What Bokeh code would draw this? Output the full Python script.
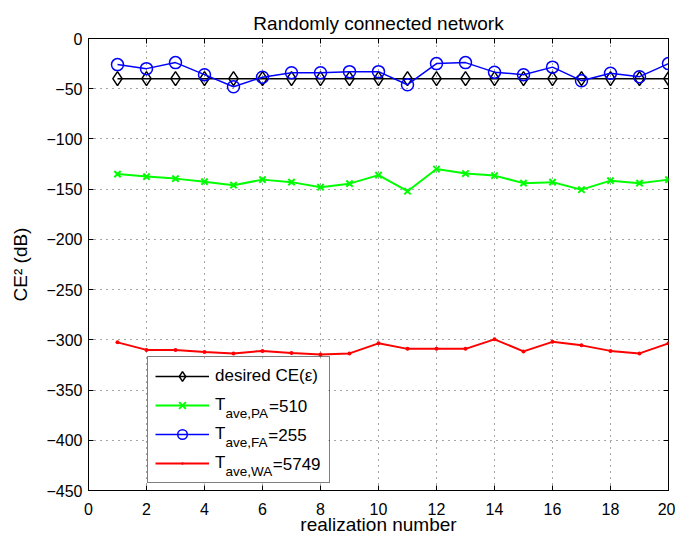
from bokeh.plotting import figure
from bokeh.models import (Range1d, FixedTicker, LinearAxis, Legend, LegendItem,
                          ColumnDataSource, BoxAnnotation)
from bokeh.core.properties import value
from bokeh.embed import file_html
from bokeh.resources import INLINE

# ---- data ----
realization = [1, 2, 3, 4, 5, 6, 7, 8, 9, 10, 11, 12, 13, 14, 15, 16, 17, 18, 19, 20]
desired_ce = [-40, -40, -40, -40, -40, -40, -40, -40, -40, -40,
              -40, -40, -40, -40, -40, -40, -40, -40, -40, -40]
t_pa = [-135, -137.5, -139.5, -142.5, -146, -140.5, -143, -148, -144.5, -136,
        -152, -130, -134.5, -136.5, -144, -143, -150.5, -141.5, -144, -140.5]
t_fa = [-26, -30, -24, -36, -48, -38.5, -34, -34, -33, -33,
        -46, -25, -24, -33.5, -36, -28.5, -42, -34.5, -38, -25]
t_wa = [-302.5, -310, -310, -312, -313.5, -311, -313, -314.5, -313.5, -303.5,
        -309, -309, -309, -299.5, -311.5, -302, -305.5, -311, -313.5, -303.5]

x_ticks = [0, 2, 4, 6, 8, 10, 12, 14, 16, 18, 20]
y_ticks = [0, -50, -100, -150, -200, -250, -300, -350, -400, -450]
y_tick_labels = ["0", "\u221250", "\u2212100", "\u2212150", "\u2212200", "\u2212250",
                 "\u2212300", "\u2212350", "\u2212400", "\u2212450"]

title_text = "Randomly connected network"
x_label = "realization number"
y_label = "CE\u00b2 (dB)"
legend_desired = "desired CE(\u03b5)"
legend_main = "T"
legend_subs = ["ave,PA", "ave,FA", "ave,WA"]
legend_vals = ["=510", "=255", "=5749"]

FONT = "Liberation Sans"

X0, X1, Y0, Y1 = 0, 20, -450, 0
FRAME_W, FRAME_H = 580, 452

p = figure(width=675, height=538,
           x_range=Range1d(X0, X1), y_range=Range1d(Y0, Y1),
           output_backend="svg", toolbar_location=None,
           min_border_left=88, min_border_right=7,
           min_border_top=38, min_border_bottom=48,
           title=title_text)

p.title.text_font = FONT
p.title.text_font_size = "19px"
p.title.text_font_style = "normal"
p.title.align = "center"
p.title.text_color = "black"

p.background_fill_color = "white"
p.border_fill_color = "white"
p.outline_line_color = "black"
p.outline_line_width = 1
p.outline_line_alpha = 1

# axes
xa = p.xaxis[0]
xa.ticker = FixedTicker(ticks=x_ticks)
ya = p.yaxis[0]
ya.ticker = FixedTicker(ticks=y_ticks)
ya.major_label_overrides = {t: l for t, l in zip(y_ticks, y_tick_labels)}
for ax in (xa, ya):
    ax.major_tick_in = 5
    ax.major_tick_out = 0
    ax.minor_tick_line_color = None
    ax.axis_line_color = "black"
    ax.major_tick_line_color = "black"
    ax.major_label_text_font = FONT
    ax.major_label_text_font_size = "16px"
    ax.major_label_text_color = "black"
    ax.axis_label_text_font = FONT
    ax.axis_label_text_font_size = "19px"
    ax.axis_label_text_font_style = "normal"
    ax.axis_label_text_color = "black"
xa.axis_label = x_label
xa.major_label_standoff = 12
xa.axis_label_standoff = -4
ya.axis_label = y_label
ya.major_label_standoff = 6
ya.axis_label_standoff = 12

# ticks on top and right (box on), labels not drawn
top_axis = LinearAxis(ticker=FixedTicker(ticks=x_ticks), major_label_text_font_size="1px",
                      major_label_text_color=None,
                      axis_line_color=None, major_tick_in=5, major_tick_out=0,
                      minor_tick_line_color=None, major_label_standoff=0,
                      major_tick_line_color="black")
right_axis = LinearAxis(ticker=FixedTicker(ticks=y_ticks), major_label_text_font_size="1px",
                        major_label_text_color=None,
                        axis_line_color=None, major_tick_in=5, major_tick_out=0,
                        minor_tick_line_color=None, major_label_standoff=0,
                        major_tick_line_color="black")
p.add_layout(top_axis, "above")
p.add_layout(right_axis, "right")

# grid
p.xgrid.ticker = FixedTicker(ticks=x_ticks)
p.ygrid.ticker = FixedTicker(ticks=y_ticks)
for g in (p.xgrid, p.ygrid):
    g.grid_line_color = "black"
    g.grid_line_alpha = 0.7
    g.grid_line_dash = "1 5"
    g.grid_line_width = 1


def px_to_data_x(px):
    return X0 + px * (X1 - X0) / FRAME_W


def px_to_data_y(py):
    return Y0 + py * (Y1 - Y0) / FRAME_H


# legend geometry (frame pixels from bottom-left)
LEG_X, LEG_Y, LEG_PAD, LEG_SP = 59, 7, 7, 5
GLYPH_W, ROW_H, LABEL_W, STANDOFF = 54, 24, 107, 6
leg_w = 2 * LEG_PAD + GLYPH_W + STANDOFF + LABEL_W
leg_h = 2 * LEG_PAD + 4 * ROW_H + 3 * LEG_SP

# white backing for the legend box (under the legend, above the grid)
p.add_layout(BoxAnnotation(left=px_to_data_x(LEG_X), right=px_to_data_x(LEG_X + leg_w),
                           bottom=px_to_data_y(LEG_Y), top=px_to_data_y(LEG_Y + leg_h),
                           fill_color="white", fill_alpha=1, line_color=None,
                           level="annotation"))

# series
l_d = p.line(realization, desired_ce, line_color="black", line_width=1.5)
m_d = p.scatter(realization, desired_ce, marker="diamond", size=14, line_color="black",
                fill_color=None, line_width=1.5)
l_pa = p.line(realization, t_pa, line_color="#00ff00", line_width=2)
m_pa = p.scatter(realization, t_pa, marker="x", size=9, line_color="#00ff00", line_width=2)
l_fa = p.line(realization, t_fa, line_color="#0000ff", line_width=1.5)
m_fa = p.scatter(realization, t_fa, marker="circle", size=12, line_color="#0000ff",
                 fill_color=None, line_width=1.5)
l_wa = p.line(realization, t_wa, line_color="#ff0000", line_width=2)
m_wa = p.scatter(realization, t_wa, marker="dot", size=16, line_color="#ff0000",
                 fill_color="#ff0000")

legend = Legend(items=[
    LegendItem(label=legend_desired, renderers=[l_d, m_d]),
    LegendItem(label=legend_main, renderers=[l_pa, m_pa]),
    LegendItem(label=legend_main, renderers=[l_fa, m_fa]),
    LegendItem(label=legend_main, renderers=[l_wa, m_wa]),
], location=(LEG_X, LEG_Y))
legend.margin = 0
legend.padding = LEG_PAD
legend.spacing = LEG_SP
legend.glyph_width = GLYPH_W
legend.glyph_height = ROW_H
legend.label_height = ROW_H
legend.label_width = LABEL_W
legend.label_standoff = STANDOFF
legend.label_text_font = FONT
legend.label_text_font_size = "17px"
legend.label_text_color = "black"
legend.border_line_color = "black"
legend.border_line_width = 1
legend.background_fill_alpha = 0
p.add_layout(legend)

# subscripts and values for T rows
sub_widths = [43.5, 42.8, 47.3]
row_centers = [LEG_Y + leg_h - LEG_PAD - ROW_H / 2 - i * (ROW_H + LEG_SP) for i in (1, 2, 3)]
sub_x = LEG_X + LEG_PAD + GLYPH_W + STANDOFF + 11
sub_src = ColumnDataSource(dict(
    x=[px_to_data_x(sub_x) for _ in legend_subs],
    y=[px_to_data_y(yc - 7) for yc in row_centers],
    text=legend_subs))
val_src = ColumnDataSource(dict(
    x=[px_to_data_x(sub_x + w) for w in sub_widths],
    y=[px_to_data_y(yc) for yc in row_centers],
    text=legend_vals))
p.text(x="x", y="y", text="text", source=sub_src, text_font=value(FONT),
       text_font_size=value("13.5px"), text_baseline="middle", text_align="left",
       text_color="black", level="overlay")
p.text(x="x", y="y", text="text", source=val_src, text_font=value(FONT),
       text_font_size=value("17px"), text_baseline="middle", text_align="left",
       text_color="black", level="overlay")

open("out.html", "w").write(file_html(p, INLINE))
